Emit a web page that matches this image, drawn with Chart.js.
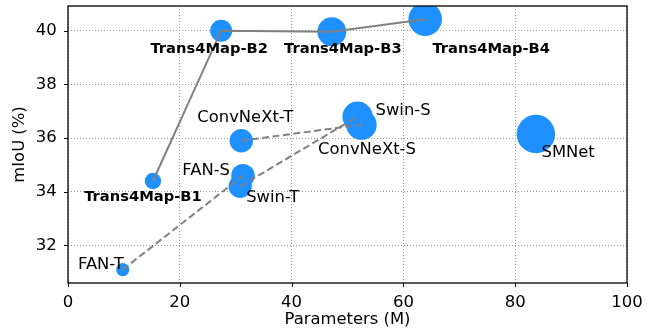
<!DOCTYPE html>
<html>
<head>
<meta charset="utf-8">
<script src="https://cdn.jsdelivr.net/npm/chart.js@4.4.1/dist/chart.umd.min.js"></script>
<style>
  html, body { margin: 0; padding: 0; background: #fff; }
  canvas { display: block; }
</style>
</head>
<body>
<canvas id="chart" width="655" height="334"></canvas>
<script>
// Model size (M params) versus segmentation accuracy (mIoU %)
const models = ['Trans4Map-B1', 'Trans4Map-B2', 'Trans4Map-B3', 'Trans4Map-B4',
                'FAN-T', 'FAN-S', 'Swin-T', 'Swin-S', 'ConvNeXt-T', 'ConvNeXt-S', 'SMNet'];
const params = [15.2, 27.4, 47.2, 63.9, 9.8, 31.3, 30.8, 51.8, 31.0, 52.5, 83.7];
const miou   = [34.4, 40.0, 39.96, 40.43, 31.1, 34.6, 34.2, 36.8, 35.9, 36.5, 36.15];

// Families joined by lines (smaller -> larger variant)
const trans4mapFamily = ['Trans4Map-B1', 'Trans4Map-B2', 'Trans4Map-B3', 'Trans4Map-B4'];
const fanFamily = ['FAN-T', 'FAN-S'];
const swinFamily = ['Swin-T', 'Swin-S'];
const convnextFamily = ['ConvNeXt-T', 'ConvNeXt-S'];

const xTicks = [0, 20, 40, 60, 80, 100];
const yTicks = [32, 34, 36, 38, 40];

// Where each name sits relative to its marker (pixels) and how it is set
const labelPlacement = {
  'Trans4Map-B1': { dx: -10, dy: 16, align: 'center', bold: true },
  'Trans4Map-B2': { dx: -12, dy: 18, align: 'center', bold: true },
  'Trans4Map-B3': { dx: 11, dy: 17, align: 'center', bold: true },
  'Trans4Map-B4': { dx: 66, dy: 30, align: 'center', bold: true },
  'FAN-T':        { dx: 1, dy: -5, align: 'right' },
  'FAN-S':        { dx: -13, dy: -5, align: 'right' },
  'Swin-T':       { dx: 6, dy: 11, align: 'left' },
  'Swin-S':       { dx: 18, dy: -6, align: 'left' },
  'ConvNeXt-T':   { dx: 4, dy: -23, align: 'center' },
  'ConvNeXt-S':   { dx: 5.5, dy: 25.5, align: 'center' },
  'SMNet':        { dx: 5.6, dy: 19, align: 'left' }
};

const FONT = '"DejaVu Sans", "Liberation Sans", sans-serif';
const BLUE = '#1E90FF';

const pointOf = name => {
  const i = models.indexOf(name);
  return { x: params[i], y: miou[i] };
};

const familyLine = (names, dash) => ({
  type: 'line',
  data: names.map(pointOf),
  borderColor: '#808080',
  borderWidth: 2,
  borderDash: dash,
  pointRadius: 0,
  fill: false,
  tension: 0,
  clip: 0
});

const frameAndLabels = {
  id: 'frameAndLabels',
  afterDatasetsDraw(chart) {
    const { ctx, chartArea: a, scales: { x, y } } = chart;
    ctx.save();
    // axes frame
    ctx.strokeStyle = '#000';
    ctx.lineWidth = 1.3;
    ctx.strokeRect(a.left, a.top, a.right - a.left, a.bottom - a.top);
    // outward tick marks
    ctx.lineWidth = 1;
    ctx.beginPath();
    xTicks.forEach(v => {
      const px = Math.round(x.getPixelForValue(v)) + 0.5;
      ctx.moveTo(px, a.bottom);
      ctx.lineTo(px, a.bottom + 4);
    });
    yTicks.forEach(v => {
      const py = Math.round(y.getPixelForValue(v)) + 0.5;
      ctx.moveTo(a.left - 4, py);
      ctx.lineTo(a.left, py);
    });
    ctx.stroke();
    // model names
    ctx.fillStyle = '#000';
    ctx.textBaseline = 'middle';
    models.forEach((name, i) => {
      const p = labelPlacement[name];
      ctx.font = p.bold ? `bold 14.7px ${FONT}` : `16.4px ${FONT}`;
      ctx.textAlign = p.align;
      ctx.fillText(name, x.getPixelForValue(params[i]) + p.dx, y.getPixelForValue(miou[i]) + p.dy);
    });
    ctx.restore();
  }
};

new Chart(document.getElementById('chart'), {
  type: 'bubble',
  data: {
    datasets: [
      familyLine(trans4mapFamily, []),
      familyLine(fanFamily, [7, 3.5]),
      familyLine(swinFamily, [7, 3.5]),
      familyLine(convnextFamily, [7, 3.5]),
      {
        type: 'bubble',
        data: models.map((m, i) => ({ x: params[i], y: miou[i], r: 2.1 * Math.sqrt(params[i]) })),
        backgroundColor: BLUE,
        borderWidth: 0,
        hoverRadius: 0,
        clip: 0
      }
    ]
  },
  options: {
    responsive: false,
    animation: false,
    events: [],
    layout: { autoPadding: false, padding: { left: 0, right: 28, top: 6, bottom: 0 } },
    plugins: { legend: { display: false }, tooltip: { enabled: false } },
    scales: {
      x: {
        type: 'linear',
        min: 0,
        max: 100,
        afterBuildTicks: s => { s.ticks = xTicks.map(v => ({ value: v })); },
        afterFit: s => { s.height = 51; s.paddingLeft = 0; s.paddingRight = 0; },
        ticks: { color: '#000', padding: 10, font: { family: FONT, size: 16.5 } },
        grid: { color: '#9a9a9a', lineWidth: 1, drawTicks: false },
        border: { display: false, dash: [1, 2] },
        title: {
          display: true, text: 'Parameters (M)', color: '#000',
          font: { family: FONT, size: 16.4 }, padding: { top: 0, bottom: 4.6 }
        }
      },
      y: {
        type: 'linear',
        min: 30.6,
        max: 40.92,
        afterBuildTicks: s => { s.ticks = yTicks.map(v => ({ value: v })); },
        afterFit: s => { s.width = 68; s.paddingTop = 0; s.paddingBottom = 0; },
        ticks: { color: '#000', padding: 11.3, font: { family: FONT, size: 16.5 } },
        grid: { color: '#9a9a9a', lineWidth: 1, drawTicks: false },
        border: { display: false, dash: [1, 2] },
        title: {
          display: true, text: 'mIoU (%)', color: '#000',
          font: { family: FONT, size: 16.4 }, padding: { top: 9.7, bottom: 0 }
        }
      }
    }
  },
  plugins: [frameAndLabels]
});
</script>
</body>
</html>
